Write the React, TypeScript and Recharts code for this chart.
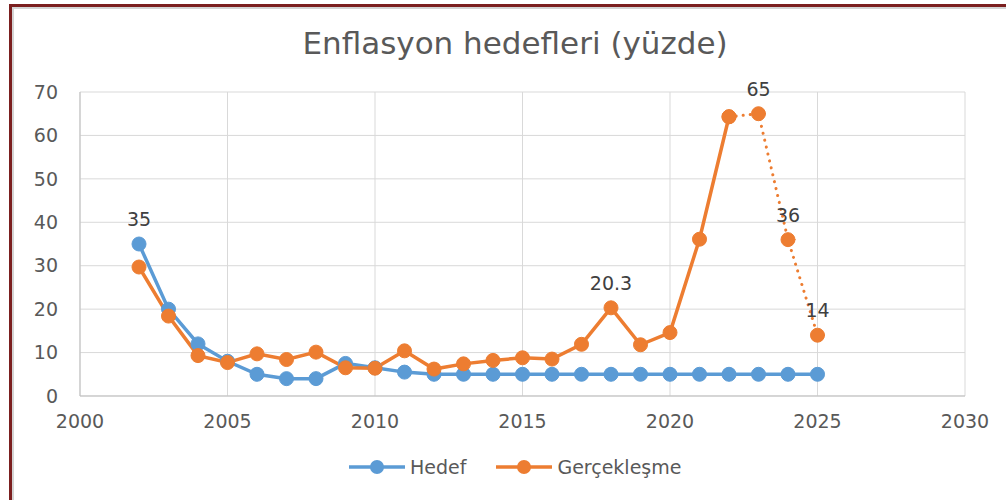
import React from 'react'
import {
  CartesianGrid,
  LabelList,
  Legend,
  Line,
  LineChart,
  XAxis,
  YAxis,
} from 'recharts'

const BLUE = '#5B9BD5'
const ORANGE = '#ED7D31'
const TEXT = '#595959'
const FONT = '"DejaVu Sans", "Open Sans", sans-serif'

const years = [
  2002, 2003, 2004, 2005, 2006, 2007, 2008, 2009, 2010, 2011, 2012, 2013,
  2014, 2015, 2016, 2017, 2018, 2019, 2020, 2021, 2022, 2023, 2024, 2025,
]
const hedef = [
  35, 20, 12, 8, 5, 4, 4, 7.5, 6.5, 5.5, 5, 5, 5, 5, 5, 5, 5, 5, 5, 5, 5, 5, 5, 5,
]
const gerceklesme = [
  29.7, 18.4, 9.3, 7.7, 9.7, 8.4, 10.1, 6.5, 6.4, 10.4, 6.2, 7.4, 8.2, 8.8, 8.5,
  11.9, 20.3, 11.8, 14.6, 36.1, 64.3, 65, 36, 14,
]
// last actual year; after it the orange line is dotted
const lastActualYear = 2022
const hedefLabels: Record<number, string> = { 2002: '35' }
const gercekLabels: Record<number, string> = {
  2018: '20.3',
  2023: '65',
  2024: '36',
  2025: '14',
}
const xTicks = [2000, 2005, 2010, 2015, 2020, 2025, 2030]
const yTicks = [0, 10, 20, 30, 40, 50, 60, 70]

const data = years.map((year, i) => ({
  year,
  hedef: hedef[i],
  actual: year <= lastActualYear ? gerceklesme[i] : null,
  forecast: year >= lastActualYear ? gerceklesme[i] : null,
  hedefLabel: hedefLabels[year] ?? null,
  actualLabel: year <= lastActualYear ? gercekLabels[year] ?? null : null,
  forecastLabel: year > lastActualYear ? gercekLabels[year] ?? null : null,
}))

const legendItems = [
  { name: 'Hedef', color: BLUE },
  { name: 'Gerçekleşme', color: ORANGE },
]

function ChartLegend() {
  return (
    <div
      style={{
        display: 'flex',
        alignItems: 'center',
        height: 30,
        paddingLeft: 349,
        fontFamily: FONT,
        fontSize: 19,
        color: TEXT,
      }}
    >
      {legendItems.map((item) => (
        <div
          key={item.name}
          style={{ display: 'flex', alignItems: 'center', marginRight: 30 }}
        >
          <svg width={56} height={16}>
            <line x1={0} y1={8} x2={56} y2={8} stroke={item.color} strokeWidth={3.5} />
            <circle cx={28} cy={8} r={7} fill={item.color} />
          </svg>
          <span style={{ marginLeft: 5 }}>{item.name}</span>
        </div>
      ))}
    </div>
  )
}

const tickStyle = { fill: TEXT, fontSize: 19, fontFamily: FONT }
const labelStyle = { fill: '#404040', fontSize: 19, fontFamily: FONT }

export default function App() {
  return (
    <div
      style={{
        position: 'absolute',
        left: 0,
        top: 0,
        width: 1006,
        height: 500,
        background: '#fff',
        overflow: 'hidden',
      }}
    >
      <div
        style={{
          position: 'absolute',
          left: 9,
          top: 4,
          right: 0,
          bottom: 0,
          borderTop: '3px solid #7b1f1f',
          borderLeft: '3px solid #7b1f1f',
          boxShadow: 'inset 2px 2px 0 #d4d4d4',
        }}
      />
      <div
        style={{
          position: 'absolute',
          left: 0,
          top: 25,
          width: 1030,
          textAlign: 'center',
          fontFamily: FONT,
          fontSize: 31,
          color: TEXT,
        }}
      >
        Enflasyon hedefleri (yüzde)
      </div>
      <LineChart
        width={1006}
        height={500}
        data={data}
        margin={{ top: 92, right: 41, bottom: 44, left: 30 }}
      >
        <CartesianGrid stroke="#d9d9d9" strokeWidth={1} />
        <XAxis
          type="number"
          dataKey="year"
          domain={[2000, 2030]}
          ticks={xTicks}
          interval={0}
          tick={tickStyle}
          tickLine={false}
          tickSize={0}
          tickMargin={19}
          height={30}
          axisLine={{ stroke: '#bfbfbf' }}
        />
        <YAxis
          domain={[0, 70]}
          ticks={yTicks}
          interval={0}
          tick={tickStyle}
          tickLine={false}
          tickSize={0}
          tickMargin={22}
          width={50}
          axisLine={{ stroke: '#bfbfbf' }}
        />
        <Legend
          content={<ChartLegend />}
          verticalAlign="bottom"
          wrapperStyle={{ top: 452, bottom: 'auto', left: 0, width: 1006 }}
        />
        <Line
          dataKey="hedef"
          name="Hedef"
          stroke={BLUE}
          strokeWidth={3.5}
          dot={{ r: 7, fill: BLUE, stroke: BLUE, strokeWidth: 1 }}
          isAnimationActive={false}
        >
          <LabelList dataKey="hedefLabel" position="top" offset={18} style={labelStyle} />
        </Line>
        <Line
          dataKey="forecast"
          name="Gerçekleşme tahmin"
          legendType="none"
          stroke={ORANGE}
          strokeWidth={3}
          strokeDasharray="0.1 7"
          strokeLinecap="round"
          dot={{ r: 7, fill: ORANGE, stroke: ORANGE, strokeWidth: 1, strokeDasharray: '0' }}
          isAnimationActive={false}
        >
          <LabelList dataKey="forecastLabel" position="top" offset={18} style={labelStyle} />
        </Line>
        <Line
          dataKey="actual"
          name="Gerçekleşme"
          stroke={ORANGE}
          strokeWidth={3.5}
          dot={{ r: 7, fill: ORANGE, stroke: ORANGE, strokeWidth: 1 }}
          isAnimationActive={false}
        >
          <LabelList dataKey="actualLabel" position="top" offset={18} style={labelStyle} />
        </Line>
      </LineChart>
    </div>
  )
}
